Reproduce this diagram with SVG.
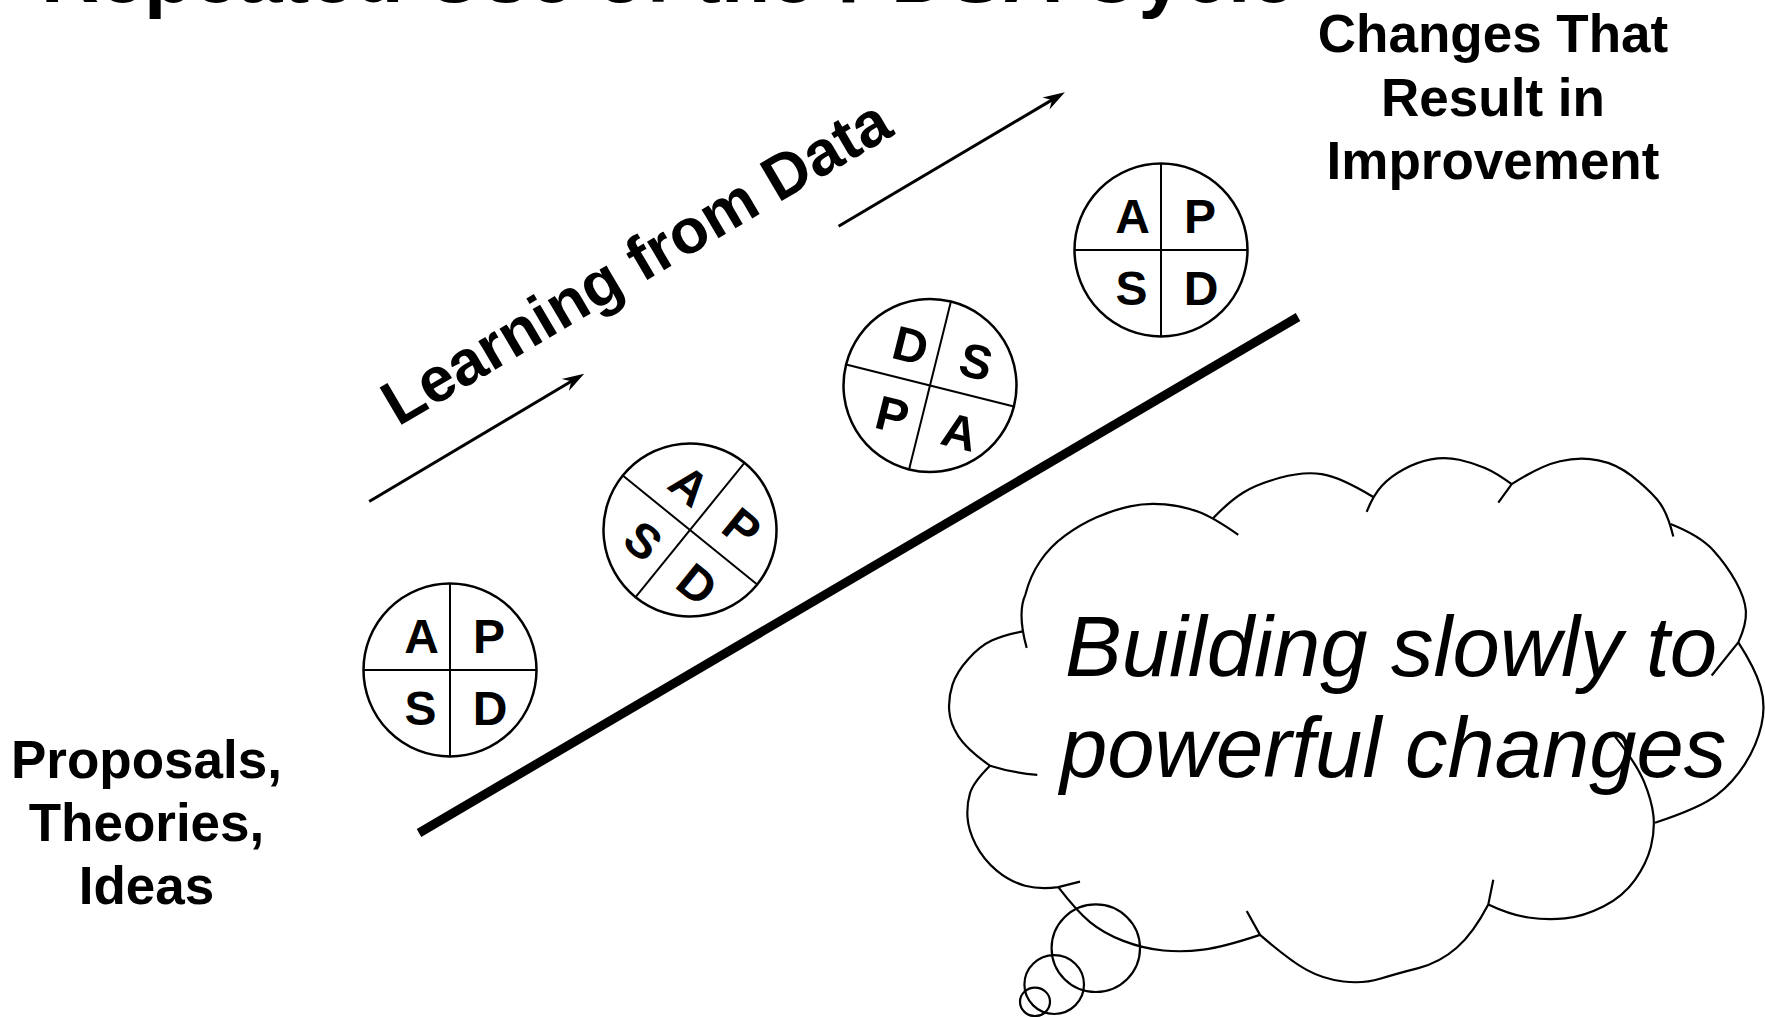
<svg xmlns="http://www.w3.org/2000/svg" width="1765" height="1017" viewBox="0 0 1765 1017">
<style>
.t{font-family:"Liberation Sans",Arial,Helvetica,sans-serif;font-weight:bold;fill:#000}
.lbl{font-size:53px;text-anchor:middle}
.q{font-size:48px;text-anchor:middle}
.ct{font-family:"Liberation Sans",Arial,Helvetica,sans-serif;font-style:italic;font-size:85px;fill:#000}
.cl{fill:none;stroke:#000;stroke-width:2.2;stroke-linejoin:round}
.conn{stroke:#000;fill:none}
</style>
<defs>
<marker id="ah" viewBox="-14 -8 26 16" refX="0" refY="0" markerWidth="26" markerHeight="16" markerUnits="userSpaceOnUse" orient="auto">
<path d="M10,0 L-12,-7 L-5,0 L-12,7 Z" fill="#000"/>
</marker>
<g id="ring">
<circle r="86.5" fill="none" stroke="#000" stroke-width="2.5"/>
<line x1="-86.5" y1="0" x2="86.5" y2="0" stroke="#000" stroke-width="2"/>
<line x1="0" y1="-86.5" x2="0" y2="86.5" stroke="#000" stroke-width="2"/>
</g>
</defs>
<rect width="1765" height="1017" fill="#fff"/>

<g id="title"><text class="t" x="41" y="2" font-size="80.5">Repeated Use of the PDSA Cycle</text></g>

<g id="connectors">
<line class="conn" x1="419" y1="833" x2="1298" y2="317" stroke-width="9"/>
<line class="conn" x1="369.2" y1="501.5" x2="575.6" y2="378.8" stroke-width="3" marker-end="url(#ah)"/>
<line class="conn" x1="838.6" y1="226.3" x2="1056.3" y2="97.4" stroke-width="3" marker-end="url(#ah)"/>
</g>

<g id="learning"><text class="t" font-size="63" transform="translate(398,427) rotate(-30.5)">Learning from Data</text></g>

<g id="pdsa1" transform="translate(450,670)">
<use href="#ring"/>
<text class="t q" x="-28.5" y="-17.5">A</text><text class="t q" x="39" y="-17.5">P</text>
<text class="t q" x="-29.5" y="54.5">S</text><text class="t q" x="40" y="54.5">D</text>
</g>
<g id="pdsa2" transform="translate(690,530) rotate(39)">
<use href="#ring"/>
<text class="t q" x="-28.5" y="-17.5">A</text><text class="t q" x="39" y="-17.5">P</text>
<text class="t q" x="-29.5" y="54.5">S</text><text class="t q" x="40" y="54.5">D</text>
</g>
<g id="pdsa3" transform="translate(930,385.5) rotate(14)">
<use href="#ring"/>
<text class="t q" x="-28.5" y="-17.5">D</text><text class="t q" x="39" y="-17.5">S</text>
<text class="t q" x="-29.5" y="54.5">P</text><text class="t q" x="40" y="54.5">A</text>
</g>
<g id="pdsa4" transform="translate(1161,250)">
<use href="#ring"/>
<text class="t q" x="-28.5" y="-17.5">A</text><text class="t q" x="39" y="-17.5">P</text>
<text class="t q" x="-29.5" y="54.5">S</text><text class="t q" x="40" y="54.5">D</text>
</g>

<g id="result">
<text class="t lbl" x="1493" y="52">Changes That</text>
<text class="t lbl" x="1493" y="115.5">Result in</text>
<text class="t lbl" x="1493" y="179">Improvement</text>
</g>
<g id="proposals">
<text class="t lbl" x="146.5" y="778.3">Proposals,</text>
<text class="t lbl" x="146.5" y="840.5">Theories,</text>
<text class="t lbl" x="146.5" y="903.5">Ideas</text>
</g>

<g id="cloud">
<path class="cl" d="M1026.7,647.9 Q1017,613 1025.4,594.6 Q1030,576.2 1040,561.5 Q1050,546.7 1065,535.7 Q1080,524.6 1096.7,517.3 Q1113.3,509.9 1130,506.3 Q1146.7,502.6 1165,504.4 Q1183.3,506.2 1198.3,511.8 Q1213.3,517.3 1238.3,534.9"/>
<path class="cl" d="M1213.3,518 Q1230,500.7 1243.4,492.5 Q1256.7,484.2 1280,477.8 Q1303.3,471.3 1321.7,474.1 Q1340,476.8 1373.3,497"/>
<path class="cl" d="M1366.7,511.8 Q1373.3,495.2 1381.7,486 Q1390,476.8 1403.4,469.5 Q1416.7,462.1 1430.9,459.4 Q1445,456.6 1459.2,459.7 Q1473.3,462.8 1485,468 Q1496.7,473.1 1511.7,484.2"/>
<path class="cl" d="M1498.3,502.6 L1511.7,484.2 Q1540,465.8 1560,461.2 Q1580,456.6 1598.4,460.3 Q1616.7,463.9 1631.7,475.9 Q1646.7,487.8 1656.7,498.9 Q1666.7,509.9 1673.3,536.4"/>
<path class="cl" d="M1670.5,524 Q1700,535.7 1713.4,550.4 Q1726.7,565.1 1735.9,581.7 Q1745,598.2 1745.9,611.1 Q1746.7,624 1738.3,642.4 L1711.7,675.5"/>
<path class="cl" d="M1738.3,642.4 Q1755,668.2 1760.5,686.6 Q1766,705 1761.4,725.2 Q1756.7,745.4 1745,763.8 Q1733.3,782.2 1716.7,795.1 Q1700,808 1655,822.7"/>
<path class="cl" d="M1613.3,734.4 Q1636.7,763.8 1644.2,782.2 Q1651.7,800.6 1653.4,815.4 Q1655,830.1 1650.9,846.7 Q1646.7,863.2 1635,879.8 Q1623.3,896.3 1603.3,906.5 Q1583.3,916.6 1565,918.4 Q1546.7,920.2 1528.4,917.5 Q1510,914.7 1488.3,904.4"/>
<path class="cl" d="M1493.3,879.7 L1488.3,904.4 Q1473.3,933.1 1456.7,947.8 Q1440,962.5 1418.4,968.1 Q1396.7,973.6 1380,978.8 Q1363.3,983.9 1343.3,981.5 Q1323.3,979.1 1306.7,969.9 Q1290,960.7 1260,934.9 L1246.7,911"/>
<path class="cl" d="M1260,934.9 Q1223.3,947.1 1203.3,949.7 Q1183.3,952.3 1163.3,950.5 Q1143.3,948.6 1123.3,940.9 Q1103.3,933.1 1090,922.1 Q1076.7,911 1058.3,887.1"/>
<path class="cl" d="M1080,881.6 L1058.3,887.1 Q1040,889.7 1025,885.7 Q1010,881.6 996.7,870.6 Q983.3,859.5 975.8,844.8 Q968.3,830.1 967.5,817.2 Q966.7,804.3 970,793.3 Q973.3,782.2 990,765.7"/>
<path class="cl" d="M1037.3,774.9 Q1013.3,773 990,765.7 Q966.7,749.1 958.4,736.3 Q950,723.4 949.2,710.5 Q948.3,697.6 952.5,684.7 Q956.7,671.8 968.4,659 Q980,646.1 991.7,640.6 Q1003.3,635 1022.7,631.4"/>
<ellipse class="cl" cx="1095.8" cy="948.2" rx="44.2" ry="43.8"/>
<ellipse class="cl" cx="1054.2" cy="984.6" rx="29.8" ry="29.4"/>
<ellipse class="cl" cx="1035" cy="1001.8" rx="15" ry="14.2"/>
<text class="ct" x="1065" y="675.5">Building slowly to</text>
<text class="ct" x="1060" y="776.7">powerful changes</text>
</g>
</svg>
